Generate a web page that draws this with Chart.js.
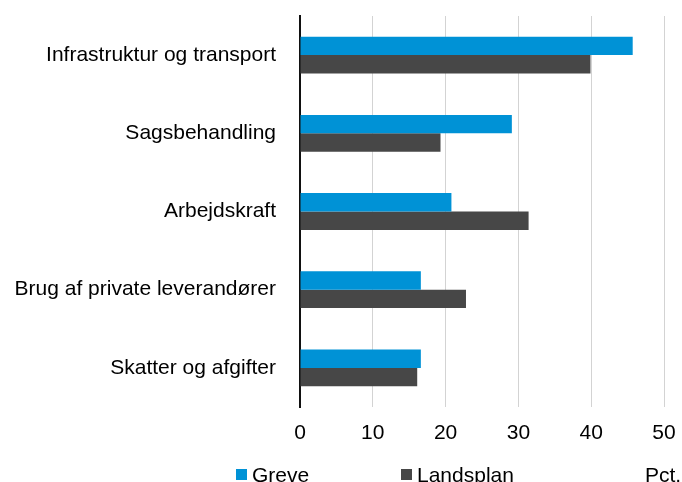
<!DOCTYPE html>
<html>
<head>
<meta charset="utf-8">
<script src="https://cdn.jsdelivr.net/npm/chart.js@4"></script>
<style>
  body { margin: 0; background: #fff; }
  #wrap { width: 682px; height: 482px; position: relative; }
</style>
</head>
<body>
<div id="wrap"><canvas id="chart"></canvas></div>
<script>
// data
const categories = ['Infrastruktur og transport', 'Sagsbehandling', 'Arbejdskraft', 'Brug af private leverandører', 'Skatter og afgifter'];
const greve = [45.7, 29.1, 20.8, 16.6, 16.6];
const landsplan = [39.9, 19.3, 31.4, 22.8, 16.1];
const seriesNames = ['Greve', 'Landsplan'];
const unitLabel = 'Pct.';

const FONT = "'Liberation Sans', Arial, sans-serif";

// legend drawn by hand, items sit far apart like the original
const bottomLegend = {
  id: 'bottomLegend',
  afterDraw(chart) {
    const ctx = chart.ctx;
    const xs = [236, 401];
    ctx.save();
    ctx.font = '21px ' + FONT;
    ctx.textBaseline = 'alphabetic';
    ctx.textAlign = 'left';
    chart.data.datasets.forEach(function(ds, i) {
      ctx.fillStyle = ds.backgroundColor;
      ctx.fillRect(xs[i], 469, 11, 11);
      ctx.fillStyle = '#000';
      ctx.fillText(ds.label, xs[i] + 16, 482);
    });
    ctx.fillText(unitLabel, 645, 482);
    ctx.restore();
  }
};

const ctx = document.getElementById('chart').getContext('2d');
const chart = new Chart(ctx, {
    type: 'bar',
    data: {
        labels: categories,
        datasets: [{
            label: seriesNames[0],
            backgroundColor: '#0092d6',
            data: greve
        },
        {
            label: seriesNames[1],
            backgroundColor: '#474747',
            data: landsplan
        }]
    },
    options: {
        indexAxis: 'y',
        responsive: true,
        maintainAspectRatio: false,
        animation: false,
        categoryPercentage: 0.47,
        barPercentage: 1,
        layout: { padding: { top: 16, right: 18, left: 0, bottom: 0 } },
        plugins: {
            legend: { display: false },
            tooltip: { enabled: false }
        },
        scales: {
            x: {
                min: 0,
                max: 50,
                ticks: { stepSize: 10, color: '#000', font: { family: FONT, size: 21 }, padding: 14 },
                grid: { color: '#d3d3d3', lineWidth: 1, drawTicks: false },
                border: { display: false },
                afterFit(scale) { scale.height = 75; scale.paddingLeft = 0; scale.paddingRight = 0; }
            },
            y: {
                ticks: { color: '#000', font: { family: FONT, size: 21 }, padding: 24 },
                grid: { display: false, drawTicks: false },
                border: { display: true, color: '#111', width: 2 },
                afterFit(scale) { scale.width = 300; scale.paddingTop = 0; scale.paddingBottom = 0; }
            }
        }
    },
    plugins: [bottomLegend]
});
</script>
</body>
</html>
